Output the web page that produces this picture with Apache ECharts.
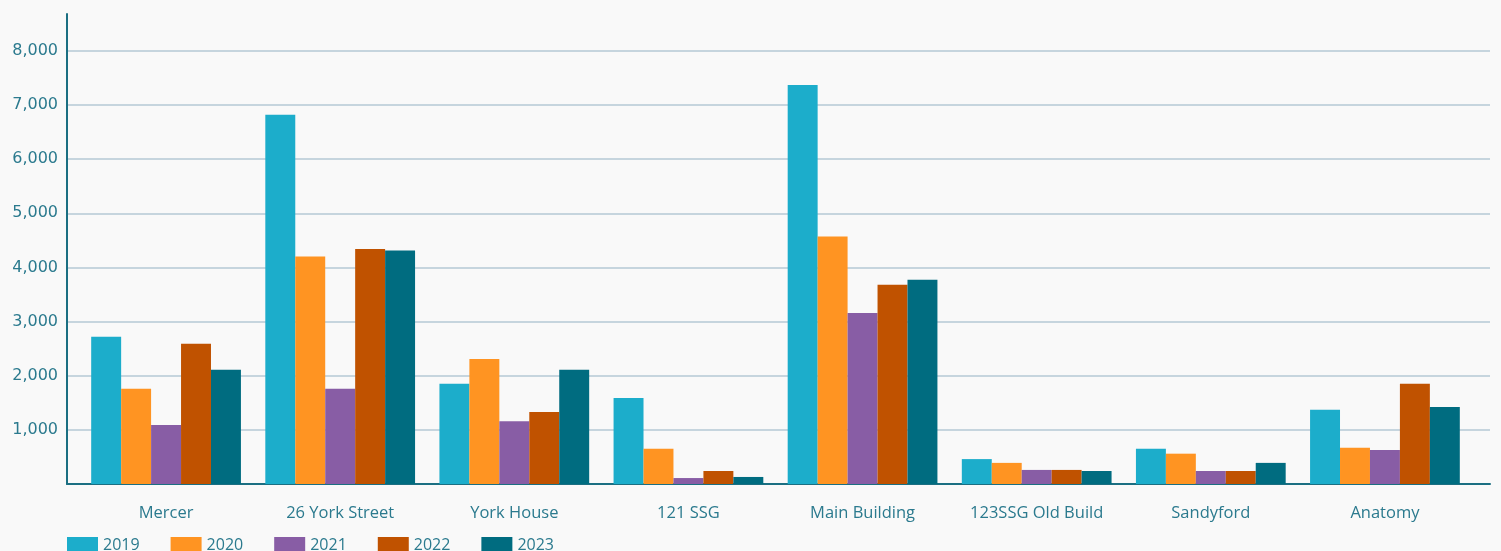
<!DOCTYPE html>
<html>
<head>
<meta charset="utf-8">
<script src="https://cdn.jsdelivr.net/npm/echarts@6/dist/echarts.min.js"></script>
<style>
html, body { margin: 0; padding: 0; background: #f9f9f9; }
#chart { width: 1501px; height: 551px; }
</style>
</head>
<body>
<div id="chart"></div>
<script>
var buildings = ['Mercer', '26 York Street', 'York House', '121 SSG', 'Main Building', '123SSG Old Build', 'Sandyford', 'Anatomy'];
var years = ['2019', '2020', '2021', '2022', '2023'];
var v2019 = [2720, 6820, 1850, 1590, 7370, 460, 650, 1370];
var v2020 = [1760, 4200, 2310, 650, 4570, 390, 560, 670];
var v2021 = [1090, 1760, 1160, 110, 3160, 260, 240, 630];
var v2022 = [2590, 4340, 1330, 240, 3680, 260, 240, 1850];
var v2023 = [2110, 4310, 2110, 130, 3770, 240, 390, 1420];
var yearValues = [v2019, v2020, v2021, v2022, v2023];
var colors = ['#1cadcb', '#ff9422', '#885da5', '#c05200', '#006c80'];

var myChart = echarts.init(document.getElementById('chart'));
var textColor = '#2b7a8e';
var axisColor = '#1b6f82';
var yMax = 8680;

// grid 0: frame (y axis, split lines, bottom line), grid 1: the bars
var series = years.map(function (y, i) {
	return {
		name: y,
		type: 'bar',
		xAxisIndex: 1,
		yAxisIndex: 1,
		data: yearValues[i],
		barGap: '0%',
		barCategoryGap: '14%',
		itemStyle: { color: colors[i] }
	};
});

var option = {
	backgroundColor: '#f9f9f9',
	color: colors,
	animation: false,
	grid: [
		{ left: 67, right: 11, top: 14, bottom: 67 },
		{ left: 79, right: 29, top: 14, bottom: 67 }
	],
	legend: {
		data: years,
		left: 62,
		top: 532,
		itemWidth: 31,
		itemHeight: 17,
		itemGap: 31,
		icon: 'rect',
		textStyle: { color: textColor, fontSize: 16, fontFamily: 'Open Sans' }
	},
	xAxis: [
		{
			type: 'value',
			gridIndex: 0,
			min: 0,
			max: 1,
			axisLine: { show: true, onZero: false, lineStyle: { color: axisColor, width: 2 } },
			axisTick: { show: false },
			axisLabel: { show: false },
			splitLine: { show: false }
		},
		{
			type: 'category',
			gridIndex: 1,
			data: buildings,
			axisLine: { show: false },
			axisTick: { show: false },
			axisLabel: { interval: 0, color: textColor, fontSize: 16.5, margin: 21, fontFamily: 'Open Sans' }
		}
	],
	yAxis: [
		{
			type: 'value',
			gridIndex: 0,
			min: 0,
			max: yMax,
			interval: 1000,
			axisLine: { show: true, lineStyle: { color: axisColor, width: 2 } },
			axisTick: { show: false },
			axisLabel: {
				color: textColor,
				fontSize: 16,
				margin: 9,
				fontFamily: 'DejaVu Sans',
				showMinLabel: false,
				showMaxLabel: false,
				formatter: function (v) { return v.toLocaleString('en-US'); }
			},
			splitLine: {
				showMinLine: false,
				showMaxLine: false,
				lineStyle: { color: '#b5c8d4', width: 1.5 }
			}
		},
		{
			type: 'value',
			gridIndex: 1,
			min: 0,
			max: yMax,
			show: false,
			splitLine: { show: false }
		}
	],
	series: series
};
myChart.setOption(option);
</script>
</body>
</html>
